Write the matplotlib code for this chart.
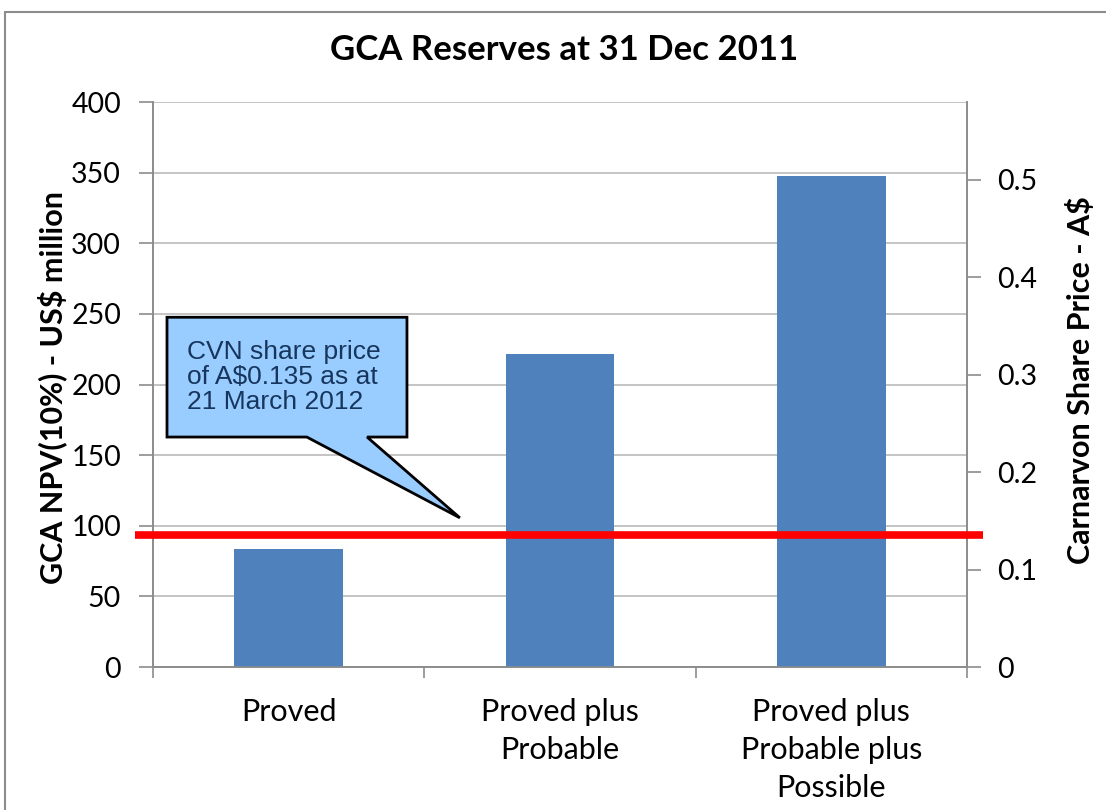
import matplotlib
matplotlib.use("Agg")
import matplotlib.pyplot as plt
from matplotlib.patches import Polygon, Rectangle
import matplotlib.transforms as mtransforms

categories = ["Proved", "Proved plus\nProbable", "Proved plus\nProbable plus\nPossible"]
npv_values = [83.5, 221.5, 347.5]
share_price = 0.135
left_ticks = [0, 50, 100, 150, 200, 250, 300, 350, 400]
right_ticks = [0, 0.1, 0.2, 0.3, 0.4, 0.5]
right_tick_labels = ["0", "0.1", "0.2", "0.3", "0.4", "0.5"]

plt.rcParams['font.family'] = ['Lato', 'DejaVu Sans']

W, H = 1106, 810
fig = plt.figure(figsize=(W / 100, H / 100), dpi=100)
fig.patch.set_facecolor("white")

# chart border
fig.patches.append(Rectangle((5 / W, -0.2), 1.2, 1.2 - 12 / H, transform=fig.transFigure,
                             fill=False, edgecolor="#8C8C8C", lw=1.5))

ax = fig.add_axes([153 / W, (H - 667) / H, (967 - 153) / W, 565 / H])
x = list(range(len(categories)))
ax.bar(x, npv_values, width=0.4, color="#4F81BD", zorder=3)
ax.set_xlim(-0.5, len(categories) - 0.5)
ax.set_ylim(0, 400)
ax.set_yticks(left_ticks)
ax.set_yticklabels([str(t) for t in left_ticks])
ax.yaxis.grid(True, color="#BFBFBF", lw=1.3, zorder=0)
ax.set_axisbelow(True)
ax.set_xticks(x)
ax.set_xticklabels(categories, fontsize=22, linespacing=1.45)
ax.set_xticks([i - 0.5 for i in range(len(categories) + 1)], minor=True)
ax.tick_params(axis="x", which="major", length=0, pad=22)
ax.tick_params(axis="x", which="minor", length=8, color="#8C8C8C", width=1.2, direction="out")
ax.tick_params(axis="y", labelsize=20.5, length=10, color="#8C8C8C", width=1.2, pad=13)
for s in ["left", "bottom", "right"]:
    ax.spines[s].set_color("#8C8C8C")
    ax.spines[s].set_linewidth(1.2)
ax.spines["top"].set_visible(False)

ax2 = ax.twinx()
ax2.set_ylim(0, 0.58)
ax2.set_yticks(right_ticks)
ax2.set_yticklabels(right_tick_labels)
ax2.tick_params(axis="y", labelsize=20.5, length=10, color="#8C8C8C", width=1.2, pad=12)
for s in ["left", "bottom", "right"]:
    ax2.spines[s].set_color("#8C8C8C")
    ax2.spines[s].set_linewidth(1.2)
ax2.spines["top"].set_visible(False)

fig.text(52 / W, 1 - 387 / H, "GCA NPV(10%) - US$ million", fontsize=22, fontweight="bold",
         rotation=90, ha="center", va="center")
fig.text(1080 / W, 1 - 380 / H, "Carnarvon Share Price - A$", fontsize=22, fontweight="bold",
         rotation=90, ha="center", va="center")

# share price series on secondary axis
ax2.plot(x, [share_price] * len(x), color="#C0504D", lw=3, zorder=4)
# highlighted red line extending beyond plot area
trans = mtransforms.blended_transform_factory(ax2.transAxes, ax2.transData)
ax2.plot([-0.022, 1.02], [share_price, share_price], color="#FF0000", lw=5.5,
         transform=trans, clip_on=False, zorder=5, solid_capstyle="butt")

# callout
verts = [(0.0172, 0.619), (0.312, 0.619), (0.312, 0.407), (0.263, 0.407),
         (0.377, 0.264), (0.189, 0.407), (0.0172, 0.407)]
ax2.add_patch(Polygon(verts, closed=True, transform=ax2.transAxes, facecolor="#99CCFF",
                      edgecolor="black", lw=2, zorder=6, clip_on=False, joinstyle="miter"))
ax2.text(0.042, 0.513, "CVN share price\nof A$0.135 as at\n21 March 2012", transform=ax2.transAxes,
         fontsize=19, family=["Liberation Sans", "DejaVu Sans"], color="#17365D",
         va="center", ha="left", linespacing=1.05, zorder=7)

fig.text(564 / W, 1 - 50 / H, "GCA Reserves at 31 Dec 2011", fontsize=25, fontweight="bold",
         ha="center", va="center")

fig.savefig("out.png", dpi=100)
